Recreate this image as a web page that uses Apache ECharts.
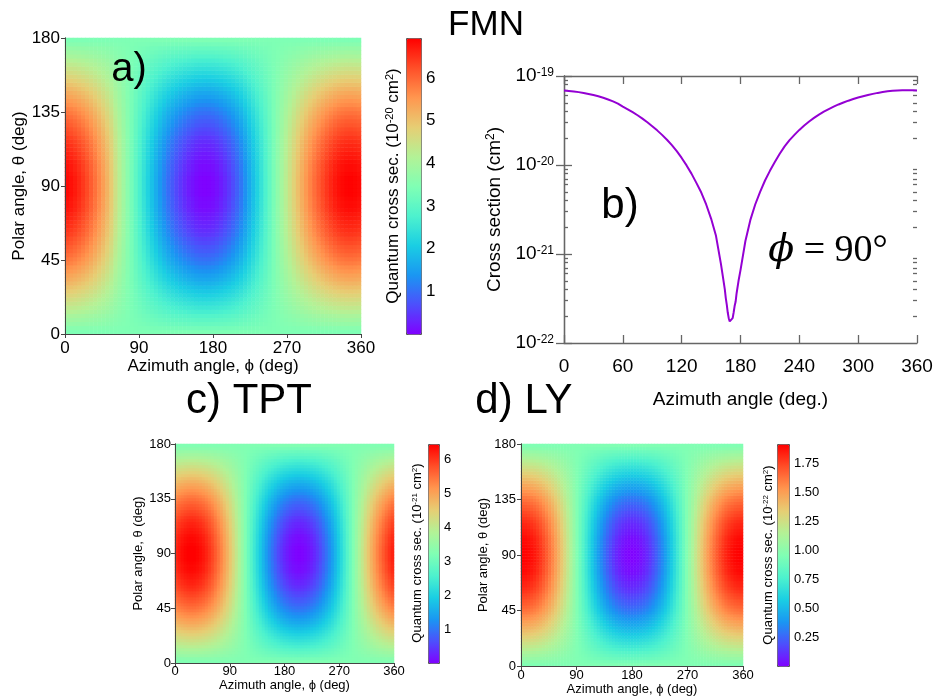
<!DOCTYPE html>
<html>
<head>
<meta charset="utf-8">
<script src="https://cdn.jsdelivr.net/npm/echarts@6.0.0/dist/echarts.min.js"></script>
<style>
  html, body { margin: 0; padding: 0; background: #fff; }
  #main { width: 942px; height: 700px; }
</style>
</head>
<body>
<div id="main"></div>
<script>
var chart = echarts.init(document.getElementById('main'));

// angle grids (deg)
var azimuth = [];
for (var p = 0; p <= 360; p += 5) azimuth.push(p);
var polar = [];
for (var t = 0; t <= 180; t += 2.5) polar.push(t);

// FMN, cross section on the equator (theta = 90), 1e-20 cm^2, azimuth 0..360 step 5
var fmnEquator = [
  6.86, 6.80, 6.71, 6.59, 6.45, 6.29, 6.11, 5.91, 5.69, 5.45, 5.19, 4.90,
  4.52, 4.22, 3.92, 3.62, 3.32, 3.02, 2.73, 2.45, 2.18, 1.92, 1.67, 1.43,
  1.20, 0.99, 0.80, 0.63, 0.49, 0.36, 0.25, 0.16, 0.078, 0.032, 0.017, 0.029,
  0.066, 0.14, 0.24, 0.36, 0.50, 0.67, 0.86, 1.08, 1.34, 1.62, 1.90, 2.18,
  2.48, 2.78, 3.08, 3.38, 3.68, 3.97, 4.25, 4.52, 4.79, 5.04, 5.28, 5.51,
  5.73, 5.93, 6.12, 6.30, 6.46, 6.60, 6.72, 6.81, 6.87, 6.91, 6.92, 6.90, 6.86
];
var fmnPole = 3.45;
// extra readings around the dip of panel b
var dipAngle = [162, 164, 166, 167, 168, 169, 171, 172, 173, 174, 176, 178];
var dipValue = [0.056, 0.040, 0.027, 0.022, 0.019, 0.0175, 0.0175, 0.019, 0.022, 0.026, 0.036, 0.050];

// TPT, 1e-21 cm^2
var tptEquator = [
  6.18, 6.29, 6.37, 6.43, 6.47, 6.48, 6.47, 6.43, 6.37, 6.29, 6.18, 6.05,
  5.90, 5.72, 5.53, 5.33, 5.10, 4.87, 4.62, 4.36, 4.09, 3.81, 3.53, 3.25,
  2.97, 2.69, 2.41, 2.15, 1.89, 1.64, 1.40, 1.17, 0.97, 0.78, 0.60, 0.45,
  0.32, 0.22, 0.13, 0.07, 0.03, 0.02, 0.03, 0.07, 0.13, 0.22, 0.32, 0.45,
  0.60, 0.78, 0.97, 1.17, 1.40, 1.64, 1.89, 2.15, 2.41, 2.69, 2.97, 3.25,
  3.53, 3.81, 4.09, 4.36, 4.62, 4.87, 5.10, 5.33, 5.53, 5.72, 5.90, 6.05, 6.18
];
var tptPole = 3.25;

// LY, 1e-22 cm^2
var lyEquator = [
  1.915, 1.911, 1.900, 1.880, 1.857, 1.826, 1.787, 1.742, 1.692, 1.635, 1.574, 1.508,
  1.438, 1.364, 1.286, 1.207, 1.126, 1.043, 0.960, 0.877, 0.794, 0.713, 0.633, 0.556,
  0.483, 0.412, 0.346, 0.285, 0.228, 0.178, 0.133, 0.094, 0.063, 0.038, 0.020, 0.009,
  0.005, 0.009, 0.020, 0.038, 0.063, 0.094, 0.133, 0.178, 0.228, 0.285, 0.346, 0.412,
  0.483, 0.556, 0.633, 0.713, 0.794, 0.877, 0.960, 1.043, 1.126, 1.207, 1.286, 1.364,
  1.438, 1.508, 1.574, 1.635, 1.692, 1.742, 1.787, 1.826, 1.857, 1.880, 1.900, 1.911, 1.915
];
var lyPole = 0.96;

// share of the equator modulation left at each polar angle 0..180 step 2.5
var polarWeight = [
  0, 0.04, 0.09, 0.13, 0.17, 0.22, 0.26, 0.30, 0.34, 0.38, 0.42, 0.46, 0.50,
  0.54, 0.57, 0.61, 0.64, 0.68, 0.71, 0.74, 0.77, 0.79, 0.82, 0.84, 0.87,
  0.89, 0.91, 0.92, 0.94, 0.95, 0.97, 0.98, 0.98, 0.99, 1.00, 1.00, 1.00,
  1.00, 1.00, 0.99, 0.98, 0.98, 0.97, 0.95, 0.94, 0.92, 0.91, 0.89, 0.87,
  0.84, 0.82, 0.79, 0.77, 0.74, 0.71, 0.68, 0.64, 0.61, 0.57, 0.54, 0.50,
  0.46, 0.42, 0.38, 0.34, 0.30, 0.26, 0.22, 0.17, 0.13, 0.09, 0.04, 0
];

var FONT = '"Liberation Sans", Arial, sans-serif';
var rainbow = ['#8000ff', '#4d4ffc', '#1a96f2', '#1acee3', '#4df2ce', '#80ffb4',
               '#b3f296', '#e6ce74', '#ff964f', '#ff4f28', '#ff0000'];

function heatCells(equator, pole) {
  var out = [];
  for (var i = 0; i < polar.length; i++) {
    for (var j = 0; j < azimuth.length; j++) {
      out.push([j, i, pole + (equator[j] - pole) * polarWeight[i]]);
    }
  }
  return out;
}

var grids = [], xAxes = [], yAxes = [], series = [], visualMaps = [], graphics = [];

function rect(l, t, w, h) {
  return { left: l, top: t, width: w, height: h, containLabel: false, outerBoundsMode: 'none' };
}

function frameAxis(g, pos, data) {
  return {
    gridIndex: g, type: 'category', position: pos, data: data, boundaryGap: true, z: 3,
    axisLine: { lineStyle: { color: '#444', width: 1 } },
    axisTick: { show: false }, axisLabel: { show: false }, splitLine: { show: false }
  };
}

function addHeatPanel(o) {
  var g = grids.length;
  grids.push(rect(o.rect[0], o.rect[1], o.rect[2], o.rect[3]));
  var xc = xAxes.length;
  xAxes.push(frameAxis(g, 'top', azimuth));
  xAxes.push({
    gridIndex: g, type: 'value', position: 'bottom', min: 0, max: 360, interval: 90, z: 3,
    axisLine: { lineStyle: { color: '#444' } },
    axisTick: { length: 4, lineStyle: { color: '#444' } },
    axisLabel: { fontSize: o.fs, color: '#000', margin: o.xMargin, fontFamily: FONT },
    splitLine: { show: false },
    name: 'Azimuth angle, ϕ (deg)', nameLocation: 'middle', nameGap: o.xNameGap,
    nameTextStyle: { fontSize: o.fs, color: '#000', fontFamily: FONT }
  });
  var yc = yAxes.length;
  yAxes.push(frameAxis(g, 'right', polar));
  yAxes.push({
    gridIndex: g, type: 'value', position: 'left', min: 0, max: 180, interval: 45, z: 3,
    axisLine: { lineStyle: { color: '#444' } },
    axisTick: { length: 4, lineStyle: { color: '#444' } },
    axisLabel: { fontSize: o.fs, color: '#000', margin: o.yMargin, fontFamily: FONT },
    splitLine: { show: false },
    name: 'Polar angle, θ (deg)', nameLocation: 'middle', nameGap: o.yNameGap, nameRotate: 90,
    nameTextStyle: { fontSize: o.fs, color: '#000', fontFamily: FONT }
  });
  series.push({
    type: 'heatmap', xAxisIndex: xc, yAxisIndex: yc,
    data: heatCells(o.equator, o.pole), progressive: 0, animation: false,
    emphasis: { disabled: true }
  });
  visualMaps.push({
    type: 'continuous', seriesIndex: series.length - 1, min: 0, max: o.max,
    left: o.bar[0], top: o.bar[1], itemWidth: o.bar[2], itemHeight: o.bar[3],
    padding: 0, calculable: false, hoverLink: false, borderColor: '#555', borderWidth: 1,
    inRange: { color: rainbow }
  });
  // colorbar ticks
  var gb = grids.length;
  grids.push(rect(o.bar[0], o.bar[1], o.bar[2], o.bar[3]));
  xAxes.push({ gridIndex: gb, type: 'value', show: false, min: 0, max: 1 });
  yAxes.push({
    gridIndex: gb, type: 'value', position: 'right', min: 0, max: o.max, interval: o.step,
    axisLine: { show: false },
    axisTick: { length: 3, lineStyle: { color: '#444' }, customValues: o.ticks },
    axisLabel: {
      fontSize: o.fs, color: '#000', margin: 5, fontFamily: FONT, customValues: o.ticks,
      formatter: function (v) {
        for (var k = 0; k < o.ticks.length; k++) if (Math.abs(o.ticks[k] - v) < 1e-6) return v.toFixed(o.dec);
        return '';
      }
    },
    splitLine: { show: false }
  });
  graphics.push({
    type: 'text', x: o.barLabel[0], y: o.barLabel[1], rotation: Math.PI / 2,
    style: {
      text: '{n|Quantum cross sec. (10}{s|' + o.exp + '}{n| cm}{s|2}{n|)}',
      align: 'center', verticalAlign: 'middle',
      rich: {
        n: { fontSize: o.fs, fontFamily: FONT, fill: '#000' },
        s: { fontSize: Math.round(o.fs * 0.62), fontFamily: FONT, fill: '#000', verticalAlign: 'top' }
      }
    }
  });
}

// a) FMN
addHeatPanel({
  rect: [65, 38, 296, 296], fs: 17, xMargin: 6, xNameGap: 19, yMargin: 5, yNameGap: 30,
  equator: fmnEquator, pole: fmnPole, max: 6.94, step: 1, ticks: [1, 2, 3, 4, 5, 6], dec: 0,
  bar: [406, 38, 15, 296], barLabel: [393, 186], exp: '-20'
});

// b) line on a log axis, plotted in units of 1e-22 cm^2 (1 .. 1000)
var LOG_OFFSET = -22;
var bGrid = grids.length;
grids.push(rect(564, 76, 353, 267), rect(564, 76, 353, 267), rect(564, 76, 353, 267));
var axisGray = { color: '#666', width: 1.3 };
var bx = xAxes.length, by = yAxes.length;
xAxes.push({
  gridIndex: bGrid, type: 'value', position: 'bottom', min: 0, max: 360, interval: 60,
  axisLine: { lineStyle: axisGray },
  axisTick: { inside: true, length: 8, lineStyle: axisGray },
  axisLabel: { fontSize: 19, color: '#000', margin: 14, fontFamily: FONT },
  splitLine: { show: false },
  name: 'Azimuth angle (deg.)', nameLocation: 'middle', nameGap: 47,
  nameTextStyle: { fontSize: 19, color: '#000', fontFamily: FONT }
});
yAxes.push({
  gridIndex: bGrid, type: 'log', logBase: 10, min: 1, max: 1000, position: 'left',
  axisLine: { lineStyle: axisGray },
  axisTick: { inside: true, length: 8, lineStyle: axisGray },
  axisLabel: {
    margin: 10, fontFamily: FONT, color: '#000',
    formatter: function (v) { return '{b|10}{s|' + (Math.round(Math.log10(v)) + LOG_OFFSET) + '}'; },
    rich: {
      b: { fontSize: 19, fontFamily: FONT, color: '#000' },
      s: { fontSize: 12, fontFamily: FONT, color: '#000', verticalAlign: 'top' }
    }
  },
  splitLine: { show: false },
  name: '{n|Cross section (cm}{s|2}{n|)}', nameLocation: 'middle', nameGap: 60, nameRotate: 90,
  nameTextStyle: {
    rich: {
      n: { fontSize: 19, fontFamily: FONT, color: '#000' },
      s: { fontSize: 12, fontFamily: FONT, color: '#000', verticalAlign: 'top' }
    }
  }
});
xAxes.push({
  gridIndex: bGrid + 1, type: 'value', position: 'top', min: 0, max: 360, interval: 60,
  axisLine: { lineStyle: axisGray }, axisTick: { inside: true, length: 8, lineStyle: axisGray },
  axisLabel: { show: false }, splitLine: { show: false }
});
yAxes.push({
  gridIndex: bGrid + 1, type: 'log', logBase: 10, min: 1, max: 1000, position: 'right',
  axisLine: { lineStyle: axisGray }, axisTick: { inside: true, length: 8, lineStyle: axisGray },
  axisLabel: { show: false }, splitLine: { show: false }
});
// minor log ticks, counted in decades
var minorTicks = [];
for (var d = 0; d < 3; d++) for (var k = 2; k <= 9; k++) minorTicks.push(d + Math.log10(k));
xAxes.push({ gridIndex: bGrid + 2, type: 'value', show: false, min: 0, max: 360 });
['left', 'right'].forEach(function (pos) {
  yAxes.push({
    gridIndex: bGrid + 2, type: 'value', position: pos, min: 0, max: 3,
    axisLine: { show: false },
    axisTick: { inside: true, length: 4, lineStyle: axisGray, customValues: minorTicks },
    axisLabel: { show: false }, splitLine: { show: false }
  });
});

var bPoints = [];
azimuth.forEach(function (a, i) { bPoints.push([a, fmnEquator[i] * 100]); });
dipAngle.forEach(function (a, i) { bPoints.push([a, dipValue[i] * 100]); });
bPoints.sort(function (u, v) { return u[0] - v[0]; });
series.push({
  type: 'line', xAxisIndex: bx, yAxisIndex: by, data: bPoints, showSymbol: false,
  symbol: 'none', animation: false, lineStyle: { color: '#9400d3', width: 2 }
});

// c) TPT
addHeatPanel({
  rect: [175, 444, 219, 219], fs: 13, xMargin: 2, xNameGap: 9, yMargin: 4, yNameGap: 27,
  equator: tptEquator, pole: tptPole, max: 6.47, step: 1, ticks: [1, 2, 3, 4, 5, 6], dec: 0,
  bar: [428, 444, 11, 219], barLabel: [417, 553], exp: '-21'
});

// d) LY
addHeatPanel({
  rect: [521, 444, 222, 222], fs: 13, xMargin: 3, xNameGap: 10, yMargin: 5, yNameGap: 25,
  equator: lyEquator, pole: lyPole, max: 1.915, step: 0.25,
  ticks: [0.25, 0.5, 0.75, 1, 1.25, 1.5, 1.75], dec: 2,
  bar: [777, 444, 12, 222], barLabel: [768, 555], exp: '-22'
});

function label(text, x, y, size) {
  return {
    type: 'text', x: x, y: y, z: 10,
    style: { text: text, fontSize: size, fontFamily: FONT, fill: '#000',
             align: 'center', verticalAlign: 'middle' }
  };
}
graphics.push(label('FMN', 486, 25, 35));
graphics.push(label('a)', 129, 70, 40));
graphics.push(label('b)', 620, 206, 42));
graphics.push(label('c) TPT', 249, 401, 42));
graphics.push(label('d) LY', 524, 401, 42));
graphics.push({
  type: 'text', x: 828, y: 251, z: 10,
  style: {
    text: '{i|ϕ} = 90°', fontSize: 38, fontFamily: '"Liberation Serif", "DejaVu Serif", serif',
    fill: '#000', align: 'center', verticalAlign: 'middle',
    rich: { i: { fontSize: 38, fontStyle: 'italic', fontFamily: '"DejaVu Serif", serif' } }
  }
});

var option = {
  animation: false,
  textStyle: { fontFamily: FONT },
  grid: grids,
  xAxis: xAxes,
  yAxis: yAxes,
  visualMap: visualMaps,
  series: series,
  graphic: graphics
};

chart.setOption(option);
</script>
</body>
</html>
